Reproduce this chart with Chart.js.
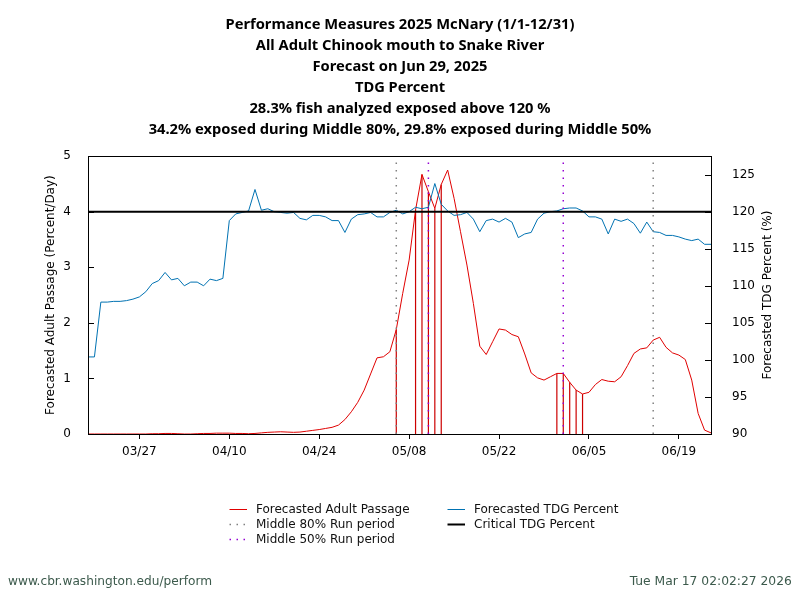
<!DOCTYPE html>
<html>
<head>
<meta charset="utf-8">
<script src="https://cdn.jsdelivr.net/npm/chart.js@4.4.1/dist/chart.umd.min.js"></script>
<style>
  body { margin: 0; background: #fff; }
  #wrap { position: relative; width: 800px; height: 600px; overflow: hidden; }
  #chart { position: absolute; left: 0; top: 0; }
  .leg { position: absolute; font: 12px "DejaVu Sans", sans-serif; color: #111; white-space: nowrap; line-height: 15px; }
  .leg svg { position: absolute; }
  .foot { position: absolute; top: 573px; font: 13px "DejaVu Sans Condensed", "DejaVu Sans", sans-serif; color: #3c5a4c; white-space: nowrap; line-height: 16px; }
</style>
</head>
<body>
<div id="wrap">
  <canvas id="chart" width="800" height="600"></canvas>
  <div id="legend"></div>
  <div class="foot" id="footLeft" style="left:8px; transform-origin:left center;">www.cbr.washington.edu/perform</div>
  <div class="foot" id="footRight" style="right:8px; transform-origin:right center;">Tue Mar 17 02:02:27 2026</div>
</div>
<script>
// performance chart - McNary adult chinook, TDG exposure

// x axis: day index, day 0 = 03/19, day 97 = 06/24
const tickDays = [8, 22, 36, 50, 64, 78, 92];
const tickLabels = ['03/27', '04/10', '04/24', '05/08', '05/22', '06/05', '06/19'];
const passageTicks = [0, 1, 2, 3, 4, 5];
const tdgTicks = [90, 95, 100, 105, 110, 115, 120, 125];

// Forecasted adult passage (percent/day), one value per day
const passage = [
  0, 0, 0, 0, 0, 0, 0, 0, 0, 0,
  0.005, 0.005, 0.01, 0.01, 0.005, 0, 0, 0.005, 0.01, 0.01,
  0.015, 0.015, 0.015, 0.01, 0.01, 0.005, 0.01, 0.02, 0.03, 0.035,
  0.04, 0.035, 0.03, 0.035, 0.05, 0.065, 0.08, 0.10, 0.12, 0.16,
  0.26, 0.40, 0.57, 0.79, 1.08, 1.37, 1.39, 1.48, 1.88, 2.53,
  3.13, 4.03, 4.67, 4.36, 4.06, 4.49, 4.75, 4.24, 3.64, 3.04,
  2.35, 1.58, 1.43, 1.66, 1.89, 1.87, 1.79, 1.75, 1.44, 1.10,
  1.01, 0.97, 1.03, 1.09, 1.09, 0.93, 0.79, 0.72, 0.75, 0.89,
  0.98, 0.95, 0.94, 1.03, 1.23, 1.45, 1.53, 1.55, 1.69, 1.74,
  1.56, 1.46, 1.42, 1.34, 0.97, 0.37, 0.07, 0.02
];

// Forecasted TDG percent, one value per day
const tdg = [
  100.4, 100.4, 107.8, 107.8, 107.9, 107.9, 108.0, 108.2, 108.5, 109.2,
  110.3, 110.7, 111.8, 110.8, 111.0, 110.0, 110.5, 110.5, 110.0, 110.9,
  110.7, 111.0, 118.8, 119.7, 119.9, 120.1, 123.0, 120.2, 120.4, 120.0,
  119.9, 119.8, 119.9, 119.1, 118.9, 119.5, 119.5, 119.3, 118.8, 118.8,
  117.2, 119.0, 119.6, 119.7, 119.9, 119.3, 119.3, 119.9, 120.2, 119.7,
  120.0, 120.6, 120.4, 120.6, 123.8, 121.0, 120.1, 119.5, 119.6, 119.9,
  119.0, 117.3, 118.8, 119.0, 118.6, 119.1, 118.6, 116.5, 117.0, 117.2,
  119.0, 119.8, 120.0, 120.1, 120.4, 120.5, 120.5, 120.1, 119.3, 119.3,
  119.0, 117.0, 119.0, 118.7, 119.0, 118.4, 117.1, 118.6, 117.3, 117.2,
  116.8, 116.8, 116.6, 116.3, 116.1, 116.3, 115.6, 115.6
];

const criticalTdg = 120;
const exposedDays = [48, 51, 52, 53, 54, 55, 73, 74, 75, 76, 77];
const middle80Days = [48, 88];
const middle50Days = [53, 74];

const titleLines = [
  'Performance Measures 2025 McNary (1/1-12/31)',
  'All Adult Chinook mouth to Snake River',
  'Forecast on Jun 29, 2025',
  'TDG Percent',
  '28.3% fish analyzed exposed above 120 %',
  '34.2% exposed during Middle 80%, 29.8% exposed during Middle 50%'
];
const rightAxisTitle = 'Forecasted TDG Percent (%)';

// vertical run-period markers, broken by nulls
function markerPoints(days) {
  const pts = [];
  days.forEach(d => {
    pts.push({ x: d, y: 0 }, { x: d, y: 5 }, { x: d, y: null });
  });
  return pts;
}

// frame around the plot, inward ticks on both y axes, right axis title read bottom-up
const framePlugin = {
  id: 'frame',
  afterDatasetsDraw(chart) {
    const { ctx, chartArea: a, scales } = chart;
    ctx.save();
    ctx.strokeStyle = '#000';
    ctx.lineWidth = 1;
    ctx.strokeRect(Math.round(a.left) + 0.5, Math.round(a.top) + 0.5,
      Math.round(a.right - a.left), Math.round(a.bottom - a.top));
    ctx.beginPath();
    scales.y.ticks.forEach(t => {
      const py = Math.round(scales.y.getPixelForValue(t.value)) + 0.5;
      ctx.moveTo(a.left, py);
      ctx.lineTo(a.left + 6, py);
    });
    scales.y1.ticks.forEach(t => {
      const py = Math.round(scales.y1.getPixelForValue(t.value)) + 0.5;
      ctx.moveTo(a.right - 6, py);
      ctx.lineTo(a.right, py);
    });
    ctx.stroke();

    ctx.translate(768, (a.top + a.bottom) / 2);
    ctx.rotate(-Math.PI / 2);
    ctx.fillStyle = '#000';
    ctx.font = '12px "DejaVu Sans"';
    ctx.textAlign = 'center';
    ctx.textBaseline = 'middle';
    ctx.fillText(rightAxisTitle, 0, 0);
    ctx.restore();
  }
};

const tickFont = { family: 'DejaVu Sans', size: 12 };

new Chart(document.getElementById('chart').getContext('2d'), {
  type: 'line',
  data: {
    datasets: [
      {
        label: 'Critical TDG Percent',
        data: [{ x: 0, y: criticalTdg }, { x: 97, y: criticalTdg }],
        yAxisID: 'y1',
        borderColor: '#000',
        borderWidth: 2,
        pointRadius: 0,
        order: 0
      },
      {
        label: 'Middle 80% Run period',
        data: markerPoints(middle80Days),
        yAxisID: 'y',
        borderColor: '#808080',
        borderWidth: 1.5,
        borderDash: [1.5, 6],
        pointRadius: 0,
        spanGaps: false,
        order: 1
      },
      {
        label: 'Middle 50% Run period',
        data: markerPoints(middle50Days),
        yAxisID: 'y',
        borderColor: '#9400d3',
        borderWidth: 1.5,
        borderDash: [1.5, 6],
        pointRadius: 0,
        spanGaps: false,
        order: 1
      },
      {
        label: 'Forecasted TDG Percent',
        data: tdg.map((v, i) => ({ x: i, y: v })),
        yAxisID: 'y1',
        borderColor: '#0072b2',
        borderWidth: 1,
        pointRadius: 0,
        tension: 0,
        order: 2
      },
      {
        label: 'Forecasted Adult Passage',
        data: passage.map((v, i) => ({ x: i, y: v })),
        yAxisID: 'y',
        borderColor: '#e00000',
        borderWidth: 1,
        pointRadius: 0,
        tension: 0,
        order: 3
      },
      {
        type: 'bar',
        label: 'Exposed days',
        data: exposedDays.map(d => ({ x: d, y: passage[d] })),
        yAxisID: 'y',
        backgroundColor: '#cc0000',
        borderWidth: 0,
        barThickness: 1.2,
        inflateAmount: 0,
        grouped: false,
        order: 4
      }
    ]
  },
  options: {
    responsive: false,
    animation: false,
    events: [],
    layout: { padding: { left: 0, right: 0, top: 0, bottom: 136 } },
    plugins: {
      legend: { display: false },
      tooltip: { enabled: false },
      title: {
        display: true,
        text: titleLines,
        color: '#000',
        font: { family: 'Noto Sans', size: 14.7, weight: 'bold', lineHeight: 1.43 },
        padding: { top: 14.5, bottom: 15.5 }
      }
    },
    scales: {
      x: {
        type: 'linear',
        min: 0,
        max: 97,
        offset: false,
        afterBuildTicks: scale => { scale.ticks = tickDays.map(v => ({ value: v })); },
        afterFit: scale => { scale.height = 30; },
        ticks: {
          color: '#000',
          font: tickFont,
          padding: 6,
          maxRotation: 0,
          autoSkip: false,
          callback: value => tickLabels[tickDays.indexOf(value)]
        },
        grid: { offset: false, drawOnChartArea: false, drawTicks: true, tickLength: 5, color: '#000' },
        border: { display: true, color: '#000' }
      },
      y: {
        position: 'left',
        min: 0,
        max: 5,
        afterBuildTicks: scale => { scale.ticks = passageTicks.map(v => ({ value: v })); },
        afterFit: scale => { scale.width = 88; },
        ticks: { color: '#000', font: tickFont, padding: 9 },
        grid: { display: false },
        border: { display: false },
        title: {
          display: true,
          text: 'Forecasted Adult Passage (Percent/Day)',
          color: '#000',
          font: { family: 'DejaVu Sans', size: 12 },
          padding: { top: 44, bottom: 0 }
        }
      },
      y1: {
        position: 'right',
        min: 90,
        max: 127.5,
        afterBuildTicks: scale => { scale.ticks = tdgTicks.map(v => ({ value: v })); },
        afterFit: scale => { scale.width = 89; },
        ticks: { color: '#000', font: tickFont, padding: 13 },
        grid: { display: false },
        border: { display: false }
      }
    }
  },
  plugins: [framePlugin]
});

// legend below the plot, two columns like the original
const legendItems = [
  { text: 'Forecasted Adult Passage', color: '#e00000', dash: '', width: 1, left: 229, top: 502 },
  { text: 'Middle 80% Run period', color: '#808080', dash: '1.5 5.5', width: 1.5, left: 229, top: 517 },
  { text: 'Middle 50% Run period', color: '#9400d3', dash: '1.5 5.5', width: 1.5, left: 229, top: 532 },
  { text: 'Forecasted TDG Percent', color: '#0072b2', dash: '', width: 1, left: 447, top: 502 },
  { text: 'Critical TDG Percent', color: '#000', dash: '', width: 2, left: 447, top: 517 }
];

const legendEl = document.getElementById('legend');
legendItems.forEach(item => {
  const div = document.createElement('div');
  div.className = 'leg';
  div.style.left = item.left + 'px';
  div.style.top = item.top + 'px';
  div.innerHTML =
    `<svg width="20" height="15" style="left:0;top:0">
       <line x1="0.5" y1="7.5" x2="18" y2="7.5" stroke="${item.color}" stroke-width="${item.width}"
         ${item.dash ? `stroke-dasharray="${item.dash}"` : ''}/>
     </svg>
     <span style="margin-left:27px">${item.text}</span>`;
  legendEl.appendChild(div);
});

// squeeze footer text to the widths seen in the original
function fitWidth(id, target) {
  const el = document.getElementById(id);
  const w = el.getBoundingClientRect().width;
  if (w > 0) el.style.transform = `scaleX(${target / w})`;
}
fitWidth('footLeft', 204);
fitWidth('footRight', 162);
</script>
</body>
</html>
